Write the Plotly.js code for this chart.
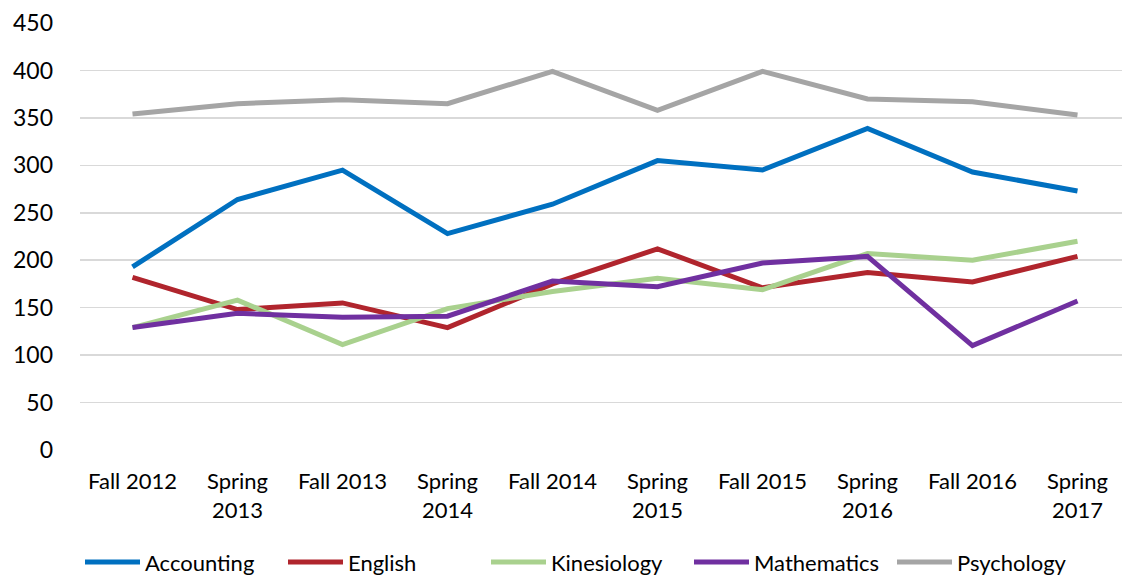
<!DOCTYPE html>
<html>
<head>
<meta charset="utf-8">
<script src="https://cdn.plot.ly/plotly-3.0.1.min.js"></script>
<style>
html,body{margin:0;padding:0;overflow:hidden;background:#fff;}
#chart{width:1130px;height:575px;}
</style>
</head>
<body>
<div id="chart"></div>
<script>
const categories = ["Fall 2012","Spring<br>2013","Fall 2013","Spring<br>2014","Fall 2014","Spring<br>2015","Fall 2015","Spring<br>2016","Fall 2016","Spring<br>2017"];
const accounting  = [193, 264, 295, 228, 259, 305, 295, 339, 293, 273];
const english     = [182, 148, 155, 129, 175, 212, 171, 187, 177, 204];
const kinesiology = [129, 158, 111, 149, 167, 181, 169, 207, 200, 220];
const mathematics = [129, 144, 140, 141, 178, 172, 197, 204, 110, 157];
const psychology  = [354, 365, 369, 365, 399, 358, 399, 370, 367, 353];
const seriesNames = ["Accounting","English","Kinesiology","Mathematics","Psychology"];
const yTicks = [0,50,100,150,200,250,300,350,400,450];

const colors = ["#0070C0","#B0252D","#A9D18E","#7030A0","#A5A5A5"];
const data = [accounting, english, kinesiology, mathematics, psychology];

const traces = data.map((vals, i) => ({
  type: 'scatter',
  mode: 'lines',
  x: categories,
  y: vals,
  name: seriesNames[i],
  line: {color: colors[i], width: 5},
  hoverinfo: 'x+y+name'
}));

const layout = {
  width: 1130,
  height: 575,
  margin: {l: 80, r: 0, t: 22.7, b: 124.5, autoexpand: false},
  paper_bgcolor: '#fff',
  plot_bgcolor: '#fff',
  font: {family: 'Lato, "Open Sans", sans-serif', size: 22, color: '#000'},
  showlegend: true,
  legend: {
    orientation: 'h',
    x: 0.0, xanchor: 'left',
    y: -0.263, yanchor: 'middle',
    font: {size: 22, color: '#000'},
    traceorder: 'normal',
    itemwidth: 55,
    entrywidthmode: 'pixels',
    entrywidth: 133
  },
  xaxis: {
    type: 'category',
    range: [-0.5, 9.5],
    showgrid: false,
    zeroline: false,
    showline: false,
    ticks: '',
    tickfont: {size: 22, color: '#000'},
    ticklabelstandoff: 16
  },
  yaxis: {
    range: [0, 450],
    tickvals: yTicks,
    ticktext: yTicks.map(String),
    showgrid: true,
    gridcolor: '#D9D9D9',
    gridwidth: 1.5,
    zeroline: false,
    showline: false,
    ticks: '',
    tickfont: {size: 23, color: '#000'},
    ticklabelstandoff: 26
  }
};

Plotly.newPlot('chart', traces, layout, {displayModeBar: false, staticPlot: true});
</script>
</body>
</html>
